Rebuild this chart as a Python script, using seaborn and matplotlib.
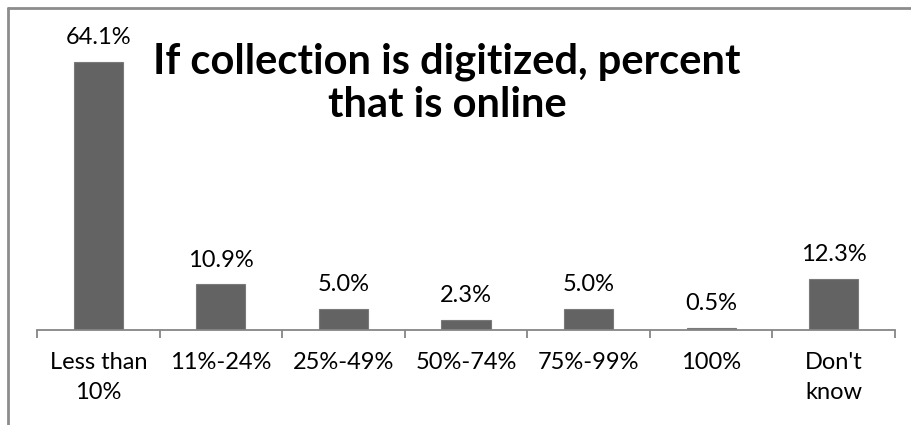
import matplotlib
matplotlib.use("Agg")
import matplotlib.pyplot as plt
from matplotlib.lines import Line2D
import seaborn as sns
import pandas as pd

categories = ["Less than\n10%", "11%-24%", "25%-49%", "50%-74%", "75%-99%", "100%", "Don't\nknow"]
percents = [64.1, 10.9, 5.0, 2.3, 5.0, 0.5, 12.3]
title = "If collection is digitized, percent\nthat is online"

sns.set_theme(style="white")
plt.rcParams["font.family"] = ["Lato", "DejaVu Sans"]

W, H = 911, 425
fig = plt.figure(figsize=(W / 100, H / 100), dpi=100)
fig.patch.set_facecolor("white")

# chart frame (top and left edges; the rest runs off the canvas)
frame_kw = dict(color="#8c8c8c", linewidth=2.0, transform=fig.transFigure)
fig.add_artist(Line2D([7.5 / W, 1.02], [1 - 7.5 / H, 1 - 7.5 / H], **frame_kw))
fig.add_artist(Line2D([7.5 / W, 7.5 / W], [1 - 7.5 / H, -0.02], **frame_kw))

ax_left, ax_right = 37 / W, 895 / W
ax_bottom = (H - 330) / H
ax_top = (H - 37.4) / H
ax = fig.add_axes([ax_left, ax_bottom, ax_right - ax_left, ax_top - ax_bottom])

df = pd.DataFrame({"category": categories, "percent": percents})
sns.barplot(data=df, x="category", y="percent", color="#636363", width=0.4,
            edgecolor="#7a7a7a", linewidth=0.8, saturation=1, ax=ax)

ax.set_ylim(0, 70)
ax.set_xlim(-0.5, len(categories) - 0.5)
ax.set_xlabel("")
ax.set_ylabel("")
ax.set_yticks([])
for side in ("top", "right", "left"):
    ax.spines[side].set_visible(False)
ax.spines["bottom"].set_color("#868686")
ax.spines["bottom"].set_linewidth(1.3)

ax.set_xticks(range(len(categories)))
ax.set_xticklabels(categories, fontsize=17, color="black", linespacing=1.5)
ax.tick_params(axis="x", which="major", length=0, pad=16)
ax.set_xticks([i - 0.5 for i in range(len(categories) + 1)], minor=True)
ax.tick_params(axis="x", which="minor", length=6, width=1.3, color="#868686",
               direction="out", bottom=True)
for lbl in ax.get_xticklabels():
    lbl.set_verticalalignment("top")

for container in ax.containers:
    ax.bar_label(container, labels=[f"{v:.1f}%" for v in percents],
                 padding=10, fontsize=17, color="black")

fig.text(447 / W, 1 - 83 / H, title, ha="center", va="center",
         fontsize=30, fontweight="bold", color="black", linespacing=1.15)

fig.savefig("out.png", dpi=100)
